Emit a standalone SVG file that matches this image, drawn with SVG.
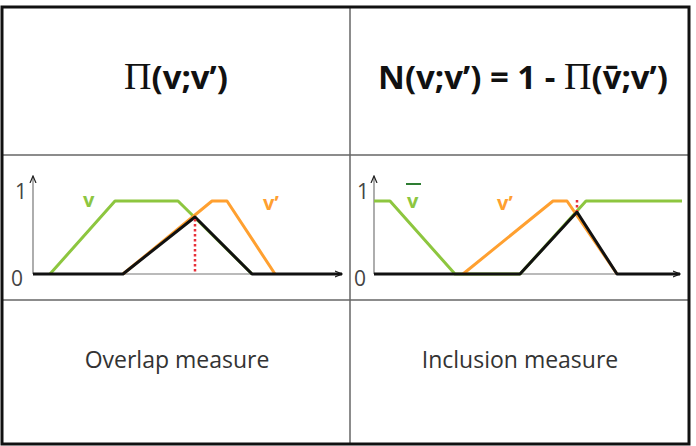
<svg xmlns="http://www.w3.org/2000/svg" width="696" height="446" viewBox="0 0 696 446">
<defs>
<marker id="ax" markerWidth="8" markerHeight="8" refX="7" refY="4" orient="auto" markerUnits="userSpaceOnUse">
<path d="M0,1 L7,4 L0,7" fill="none" stroke="#222" stroke-width="1.2"/>
</marker>
</defs>
<style>
.grid{stroke:#666;stroke-width:1.5;fill:none}
.outer{stroke:#111;stroke-width:3;fill:none}
.axis{stroke:#777;stroke-width:1.2;fill:none;marker-end:url(#ax)}
.g{stroke:#8dc63f;stroke-width:3;fill:none;stroke-linejoin:round}
.o{stroke:#ffa030;stroke-width:3;fill:none;stroke-linejoin:round}
.k{stroke:#111;stroke-width:3;fill:none;stroke-linejoin:round}
.red{stroke:#e8303a;stroke-width:2.5;stroke-dasharray:2.5 2.5;fill:none}
.title{font-family:"Open Sans","Liberation Sans",sans-serif;font-weight:bold;font-size:33px;fill:#111;text-anchor:middle}
.pi{font-family:"Liberation Serif",serif;font-weight:normal}
.cap{font-family:"Open Sans","Liberation Sans",sans-serif;font-size:23px;fill:#333;text-anchor:middle}
.num{font-family:"Open Sans","Liberation Sans",sans-serif;font-size:21px;fill:#444}
.lbl{font-family:"Open Sans","Liberation Sans",sans-serif;font-weight:bold;font-size:20px}
</style>
<rect x="0" y="0" width="696" height="446" fill="#fff"/>
<g id="table">
<line class="grid" x1="350" y1="7" x2="350" y2="444"/>
<line class="grid" x1="2" y1="155" x2="689" y2="155"/>
<line class="grid" x1="2" y1="300" x2="689" y2="300"/>
<rect class="outer" x="2" y="7" width="687" height="437"/>
</g>
<g id="header-left">
<text class="title" x="176" y="89"><tspan class="pi" font-size="38">Π</tspan>(v;v’)</text>
</g>
<g id="header-right">
<text class="title" x="523" y="89">N(v;v’) = 1 - <tspan class="pi" font-size="38">Π</tspan>(v̄;v’)</text>
</g>
<g id="chart-left">
<line class="axis" x1="33" y1="274" x2="33" y2="176"/>
<line class="axis" x1="33" y1="274" x2="342" y2="274"/>
<text class="num" x="15" y="199">1</text>
<text class="num" x="11" y="286">0</text>
<polyline class="g" points="50,274 115,201 178,201 252,274"/>
<polyline class="o" points="123,274 212,201 227,201 275,274"/>
<polyline class="k" points="33,274 123,274 195,217 252,274 342,274"/>
<line class="red" x1="195" y1="219" x2="195" y2="274"/>
<text class="lbl" x="83" y="207" fill="#8dc63f">v</text>
<text class="lbl" x="263" y="210" fill="#ffa030">v’</text>
</g>
<g id="chart-right">
<line class="axis" x1="374" y1="274" x2="374" y2="176"/>
<line class="axis" x1="374" y1="274" x2="680" y2="274"/>
<text class="num" x="357" y="199">1</text>
<text class="num" x="354" y="286">0</text>
<polyline class="g" points="374,201 390,201 455,274 520,274 586,201 682,201"/>
<polyline class="o" points="463,274 553,201 567,201 617,274"/>
<polyline class="k" points="374,274 520,274 577,212 617,274 680,274"/>
<line class="red" x1="577" y1="200" x2="577" y2="211"/>
<text class="lbl" x="407" y="208" fill="#8dc63f">v</text>
<line x1="406" y1="184" x2="421" y2="184" stroke="#2e7d32" stroke-width="2"/>
<text class="lbl" x="497" y="210" fill="#ffa030">v’</text>
</g>
<g id="caption-left">
<text class="cap" x="177" y="368">Overlap measure</text>
</g>
<g id="caption-right">
<text class="cap" x="520" y="368">Inclusion measure</text>
</g>
</svg>
